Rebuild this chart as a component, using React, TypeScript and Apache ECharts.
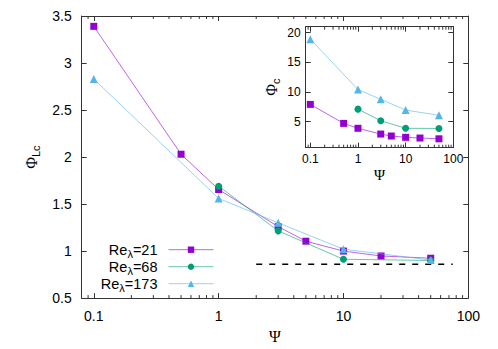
import React, { useEffect, useRef } from 'react';
import * as echarts from 'echarts';

// ---- data ----
const reValues = [21, 68, 173];
const seriesNames = reValues.map((v) => `Reλ=${v}`);
const colors = ['#9400D3', '#009E73', '#56B4E9'];
const symbols = ['rect', 'circle', 'triangle'];

const psi21 = [0.1, 0.5, 1, 3, 5, 10, 20, 50];
const psi68 = [1, 3, 10, 50];
const psi173 = [0.1, 1, 3, 10, 50];

const mainPhi21 = [3.39, 2.03, 1.655, 1.26, 1.105, 1.0, 0.948, 0.924];
const mainPhi68 = [1.69, 1.215, 0.913, 0.9];
const mainPhi173 = [2.83, 1.56, 1.3, 1.02, 0.905];

const insetPhi21 = [7.9, 4.7, 3.87, 2.9, 2.57, 2.35, 2.23, 2.1];
const insetPhi68 = [7.1, 5.15, 3.87, 3.85];
const insetPhi173 = [18.9, 10.4, 8.76, 6.95, 6.06];

const refLineX = [2, 75];
const refLineY = 0.86;

const xMin = 0.08;
const xMax = 100;
const mainYMin = 0.5;
const mainYMax = 3.5;
const insetYMin = 0.6;
const insetYMax = 21;

const xTickLabels: Record<string, string> = { '-1': '0.1', '0': '1', '1': '10', '2': '100' };
const minorTickValues = [0.09, 0.2, 0.3, 0.4, 0.5, 0.6, 0.7, 0.8, 0.9, 2, 3, 4, 5, 6, 7, 8, 9, 20, 30, 40, 50, 60, 70, 80, 90];

const SANS = 'Liberation Sans';
const SERIF = 'Liberation Serif';
const AXIS_COLOR = '#333';

function logLabel(v: number) {
  const l = Math.log10(v);
  const r = Math.round(l);
  if (Math.abs(l - r) < 1e-6) return xTickLabels[String(r)] ?? '';
  return '';
}

function zip(xs: number[], ys: number[]) {
  return xs.map((x, i) => [x, ys[i]]);
}

export default function App() {
  const ref = useRef<HTMLDivElement>(null);
  useEffect(() => {
    document.body.style.margin = '0';
    if (!ref.current) return;
    const chart = echarts.init(ref.current, undefined, { renderer: 'svg' });

    const grids = [
      { left: 81.7, top: 16, right: 29.7, bottom: 45 },
      { left: 305.7, top: 26.7, right: 44.7, bottom: 201.3 },
    ];

    const mkX = (gridIndex: number, top: boolean, fontSize: number, margin: number, name?: any) => ({
      type: 'log',
      logBase: 10,
      gridIndex,
      min: xMin,
      max: xMax,
      position: top ? 'top' : 'bottom',
      axisLine: { show: true, lineStyle: { color: AXIS_COLOR, width: 1 } },
      axisTick: { show: true, inside: true, length: 5, lineStyle: { color: AXIS_COLOR } },
      axisLabel: top
        ? { show: false }
        : { show: true, formatter: logLabel, color: '#000', fontFamily: SANS, fontSize, margin, showMinLabel: false },
      splitLine: { show: false },
      name: top ? undefined : name?.text,
      nameLocation: 'middle',
      nameGap: name?.gap,
      nameTextStyle: name?.style,
    });

    const mkY = (gridIndex: number, right: boolean, min: number, max: number, extra: any, fontSize: number, margin: number, name?: any) => ({
      type: 'value',
      gridIndex,
      min,
      max,
      ...extra,
      position: right ? 'right' : 'left',
      axisLine: { show: true, lineStyle: { color: AXIS_COLOR, width: 1 } },
      axisTick: { show: true, inside: true, length: 5, lineStyle: { color: AXIS_COLOR } },
      axisLabel: right
        ? { show: false }
        : { show: true, color: '#000', fontFamily: SANS, fontSize, margin, showMinLabel: extra.interval ? true : false, showMaxLabel: extra.interval ? true : false },
      splitLine: { show: false },
      name: right ? undefined : name?.text,
      nameLocation: 'middle',
      nameGap: name?.gap,
      nameRotate: 90,
      nameTextStyle: name?.style,
    });

    const subRich = (big: number, small: number) => ({
      p: { fontFamily: SERIF, fontSize: big, color: '#000', lineHeight: big, verticalAlign: 'top' },
      s: { fontFamily: SANS, fontSize: small, color: '#000', lineHeight: small, padding: [Math.round(big * 0.45), 0, 0, 0], verticalAlign: 'top' },
    });

    const xAxes = [
      mkX(0, false, 14, 11, { text: 'Ψ', gap: 26, style: { fontFamily: SERIF, fontSize: 16, color: '#000' } }),
      mkX(0, true, 14, 11),
      mkX(1, false, 12, 5, { text: 'Ψ', gap: 20, style: { fontFamily: SERIF, fontSize: 15, color: '#000' } }),
      mkX(1, true, 12, 5),
    ];
    const yAxes = [
      mkY(0, false, mainYMin, mainYMax, { interval: 0.5 }, 14, 10, {
        text: '{p|Φ}{s|Lc}', gap: 38, style: { rich: subRich(16, 11) },
      }),
      mkY(0, true, mainYMin, mainYMax, { interval: 0.5 }, 14, 10),
      mkY(1, false, insetYMin, insetYMax, { splitNumber: 4 }, 12, 5, {
        text: '{p|Φ}{s|c}', gap: 26, style: { rich: subRich(16, 11) },
      }),
      mkY(1, true, insetYMin, insetYMax, { splitNumber: 4 }, 12, 5),
    ];

    const mkLine = (i: number, xs: number[], ys: number[], axisIdx: number) => ({
      type: 'line',
      name: seriesNames[i],
      xAxisIndex: axisIdx,
      yAxisIndex: axisIdx,
      data: zip(xs, ys),
      symbol: symbols[i],
      symbolSize: i === 2 ? 8 : 7,
      showSymbol: true,
      lineStyle: { color: colors[i], width: 1, opacity: 0.6 },
      itemStyle: { color: colors[i] },
      z: 3 + i,
    });

    const minorSeries = (axisIdx: number, yMin: number, yMax: number) => ({
      type: 'custom',
      xAxisIndex: axisIdx,
      yAxisIndex: axisIdx,
      silent: true,
      data: minorTickValues.map((v) => [v, yMin]),
      encode: { x: 0, y: 1 },
      renderItem: (_p: any, api: any) => {
        const x = api.value(0);
        const b = api.coord([x, yMin]);
        const t = api.coord([x, yMax]);
        return {
          type: 'group',
          children: [
            { type: 'line', shape: { x1: b[0], y1: b[1], x2: b[0], y2: b[1] - 3 }, style: { stroke: AXIS_COLOR, lineWidth: 1 } },
            { type: 'line', shape: { x1: t[0], y1: t[1], x2: t[0], y2: t[1] + 3 }, style: { stroke: AXIS_COLOR, lineWidth: 1 } },
          ],
        };
      },
    });

    const legendTops = [242.2, 259.2, 276.2];
    const legends = seriesNames.map((name, i) => ({
      data: [name],
      orient: 'vertical',
      right: 498 - 214,
      top: legendTops[i],
      padding: 0,
      align: 'right',
      itemWidth: 45,
      itemHeight: 8,
      lineStyle: { width: 1, opacity: 0.6 },
      formatter: (n: string) => `{n|Re}{s|λ}{n|=${n.split('=')[1]}}`,
      textStyle: {
        padding: [0, 6, 0, 0],
        rich: {
          n: { fontFamily: SANS, fontSize: 14.5, color: '#000', lineHeight: 15, verticalAlign: 'top' },
          s: { fontFamily: SANS, fontSize: 11, color: '#000', lineHeight: 9, padding: [6, 0, 0, 0], verticalAlign: 'top' },
        },
      },
    }));

    const option: any = {
      animation: false,
      backgroundColor: '#fff',
      grid: grids,
      xAxis: xAxes,
      yAxis: yAxes,
      legend: legends,
      series: [
        minorSeries(0, mainYMin, mainYMax),
        minorSeries(2, insetYMin, insetYMax),
        mkLine(0, psi21, mainPhi21, 0),
        mkLine(1, psi68, mainPhi68, 0),
        mkLine(2, psi173, mainPhi173, 0),
        {
          type: 'line',
          xAxisIndex: 0,
          yAxisIndex: 0,
          data: refLineX.map((x) => [x, refLineY]),
          symbol: 'none',
          lineStyle: { color: '#000', width: 1.5, type: [6, 7] },
          z: 2,
        },
        mkLine(0, psi21, insetPhi21, 2),
        mkLine(1, psi68, insetPhi68, 2),
        mkLine(2, psi173, insetPhi173, 2),
      ],
    };
    chart.setOption(option);
    return () => chart.dispose();
  }, []);
  return <div ref={ref} style={{ width: 498, height: 349 }} />;
}
